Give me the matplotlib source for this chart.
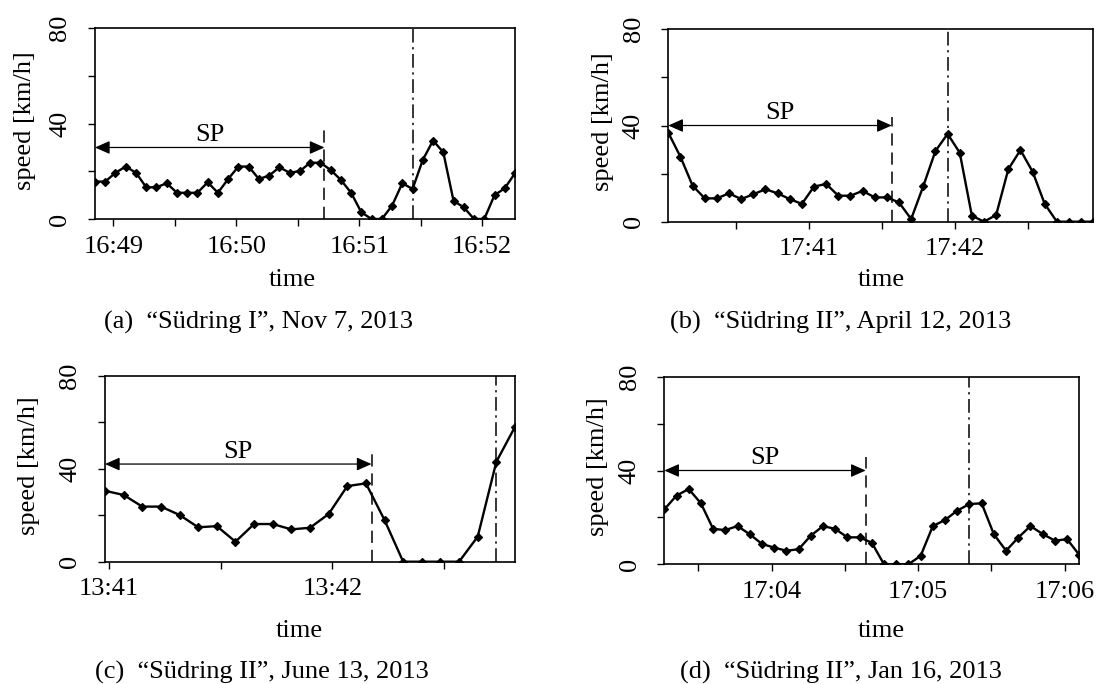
import matplotlib
matplotlib.use("Agg")
import matplotlib.pyplot as plt
import numpy as np
from matplotlib.ticker import FixedLocator, FuncFormatter

plt.rcParams["font.family"] = ["Liberation Serif", "DejaVu Serif"]

W, H = 1099, 684
STEP = 5  # seconds between two speed samples

# (a) Südring I, Nov 7, 2013
A_START = "16:48:51"
A_SPEED = [15.7, 15.7, 19.4, 22.0, 19.4, 13.3, 13.3, 15.0, 11.0, 11.0,
           11.0, 15.4, 11.0, 16.8, 22.0, 22.0, 16.8, 18.2, 21.7, 19.4,
           20.1, 23.6, 23.6, 20.6, 16.4, 11.0, 2.8, 0.0, 0.0, 5.6,
           15.0, 12.6, 24.8, 32.9, 28.0, 7.6, 4.9, 0.0, 0.0, 10.0,
           12.9, 19.2]
A_SP_END = "16:50:43"
A_EVENT = "16:51:26"
A_SP_LEVEL = 30
A_SP_MARK = 39.5
A_CAPTION = "(a)  \u201cS\u00fcdring I\u201d, Nov 7, 2013"

# (b) Südring II, April 12, 2013
B_START = "17:40:02"
B_SPEED = [37.0, 27.0, 15.0, 9.7, 9.7, 11.8, 9.4, 11.4, 13.5, 11.8,
           9.4, 7.4, 14.6, 15.7, 10.8, 10.8, 12.8, 10.1, 10.1, 8.0,
           1.1, 14.8, 29.4, 36.5, 28.7, 2.5, 0.0, 2.8, 21.8, 29.8,
           20.8, 7.4, 0.0, 0.0, 0.0, 0.0]
B_SP_END = "17:41:34"
B_EVENT = "17:41:57"
B_SP_LEVEL = 40
B_SP_MARK = 43.7
B_CAPTION = "(b)  \u201cS\u00fcdring II\u201d, April 12, 2013"

# (c) Südring II, June 13, 2013
C_START = "13:40:59"
C_SPEED = [30.5, 28.7, 23.7, 23.7, 20.1, 14.8, 15.3, 8.6, 16.2, 16.2,
           13.9, 14.6, 20.5, 32.5, 33.7, 17.9, 0.0, 0.0, 0.0, 0.0,
           10.8, 43.0, 58.0]
C_SP_END = "13:42:10.5"
C_EVENT = "13:42:44"
C_SP_LEVEL = 42
C_SP_MARK = 47
C_CAPTION = "(c)  \u201cS\u00fcdring II\u201d, June 13, 2013"

# (d) Südring II, Jan 16, 2013
D_START = "17:03:16"
D_SPEED = [23.4, 29.3, 32.1, 26.0, 15.1, 14.6, 16.3, 12.8, 8.7, 7.1,
           5.8, 6.4, 12.2, 16.3, 15.1, 11.5, 11.5, 9.2, 0.0, 0.0,
           0.0, 3.6, 16.3, 18.9, 22.9, 25.7, 26.0, 12.8, 5.8, 11.4,
           16.3, 12.9, 10.1, 10.7, 4.0]
D_SP_END = "17:04:38.5"
D_EVENT = "17:05:21"
D_SP_LEVEL = 40
D_SP_MARK = 45.6
D_CAPTION = "(d)  \u201cS\u00fcdring II\u201d, Jan 16, 2013"

Y_TICKS = [0, 20, 40, 60, 80]
Y_LABELS = ["0", "", "40", "", "80"]

# panel geometry in pixels: axes box (left, top, right, bottom),
# x-label anchor, y-label anchor, caption anchor
LAYOUT = {
    "a": dict(box=(95, 28.3, 515, 219), xlab=(292.5, 286), ylab=(25, 121),
              cap=(258, 329)),
    "b": dict(box=(668.3, 29.3, 1093.3, 221.7), xlab=(881.5, 286), ylab=(602.7, 122),
              cap=(841, 329)),
    "c": dict(box=(105, 375.7, 515, 561.7), xlab=(299, 636.7), ylab=(29, 466),
              cap=(262, 678.5)),
    "d": dict(box=(664.3, 376.7, 1079.3, 564.3), xlab=(881, 636.7), ylab=(598, 467),
              cap=(841, 678.5)),
}

FS = 19
CAP_FS = 19


def secs(s):
    h, m, sec = s.split(":")
    return int(h) * 3600 + int(m) * 60 + float(sec)


def clock(x, pos=None):
    x = int(round(x))
    if x % 60:
        return ""
    return "%d:%02d" % (x // 3600, (x // 60) % 60)


fig = plt.figure(figsize=(W / 100, H / 100), dpi=100)


def panel(key, start, speed, sp_end, event, sp_level, sp_mark, caption):
    lay = LAYOUT[key]
    l, t, r, b = lay["box"]
    ax = fig.add_axes([l / W, 1 - b / H, (r - l) / W, (b - t) / H])
    t0 = secs(start)
    times = t0 + STEP * np.arange(len(speed))
    ax.plot(times, speed, color="black", lw=1.7, marker="D", ms=4.0,
            mfc="black", mec="black", mew=0.9, solid_joinstyle="miter")
    ax.set_xlim(times[0], times[-1])
    ax.set_ylim(0, 80)

    first = int(np.ceil(times[0] / 30.0)) * 30
    ticks = np.arange(first, times[-1] + 0.1, 30)
    ax.xaxis.set_major_locator(FixedLocator(ticks))
    ax.xaxis.set_major_formatter(FuncFormatter(clock))
    ax.set_yticks(Y_TICKS)
    ax.set_yticklabels(Y_LABELS)
    ax.tick_params(axis="both", direction="out", length=5, width=1.0,
                   labelsize=FS, color="black")
    ax.tick_params(axis="x", pad=7)
    ax.tick_params(axis="y", pad=12, labelrotation=90)
    for lab in ax.get_yticklabels():
        lab.set_va("center")
    for sp in ax.spines.values():
        sp.set_linewidth(1.2)

    te = secs(sp_end)
    ax.annotate("", xy=(times[0], sp_level), xytext=(te, sp_level),
                arrowprops=dict(arrowstyle="<|-|>,head_length=0.9,head_width=0.4",
                                mutation_scale=10, color="black", lw=0.9,
                                shrinkA=0, shrinkB=0),
                annotation_clip=False)
    ax.annotate("SP", xy=((times[0] + te) / 2, sp_level), xytext=(0, 4.5),
                textcoords="offset points", ha="center", va="baseline",
                fontsize=FS)
    ax.plot([te, te], [0, sp_mark], color="black", lw=1.1,
            linestyle=(0, (8, 4.5)))
    ax.axvline(secs(event), color="black", lw=1.1,
               linestyle=(0, (9, 3.0, 1.5, 3.0)))

    fig.text(lay["xlab"][0] / W, 1 - lay["xlab"][1] / H, "time",
             ha="center", va="baseline", fontsize=FS)
    fig.text(lay["ylab"][0] / W, 1 - lay["ylab"][1] / H, "speed [km/h]",
             ha="center", va="center", rotation=90, fontsize=FS)
    fig.text(lay["cap"][0] / W, 1 - lay["cap"][1] / H, caption,
             ha="center", va="baseline", fontsize=CAP_FS)
    return ax


panel("a", A_START, A_SPEED, A_SP_END, A_EVENT, A_SP_LEVEL, A_SP_MARK, A_CAPTION)
panel("b", B_START, B_SPEED, B_SP_END, B_EVENT, B_SP_LEVEL, B_SP_MARK, B_CAPTION)
panel("c", C_START, C_SPEED, C_SP_END, C_EVENT, C_SP_LEVEL, C_SP_MARK, C_CAPTION)
panel("d", D_START, D_SPEED, D_SP_END, D_EVENT, D_SP_LEVEL, D_SP_MARK, D_CAPTION)

fig.savefig("out.png", dpi=100)
